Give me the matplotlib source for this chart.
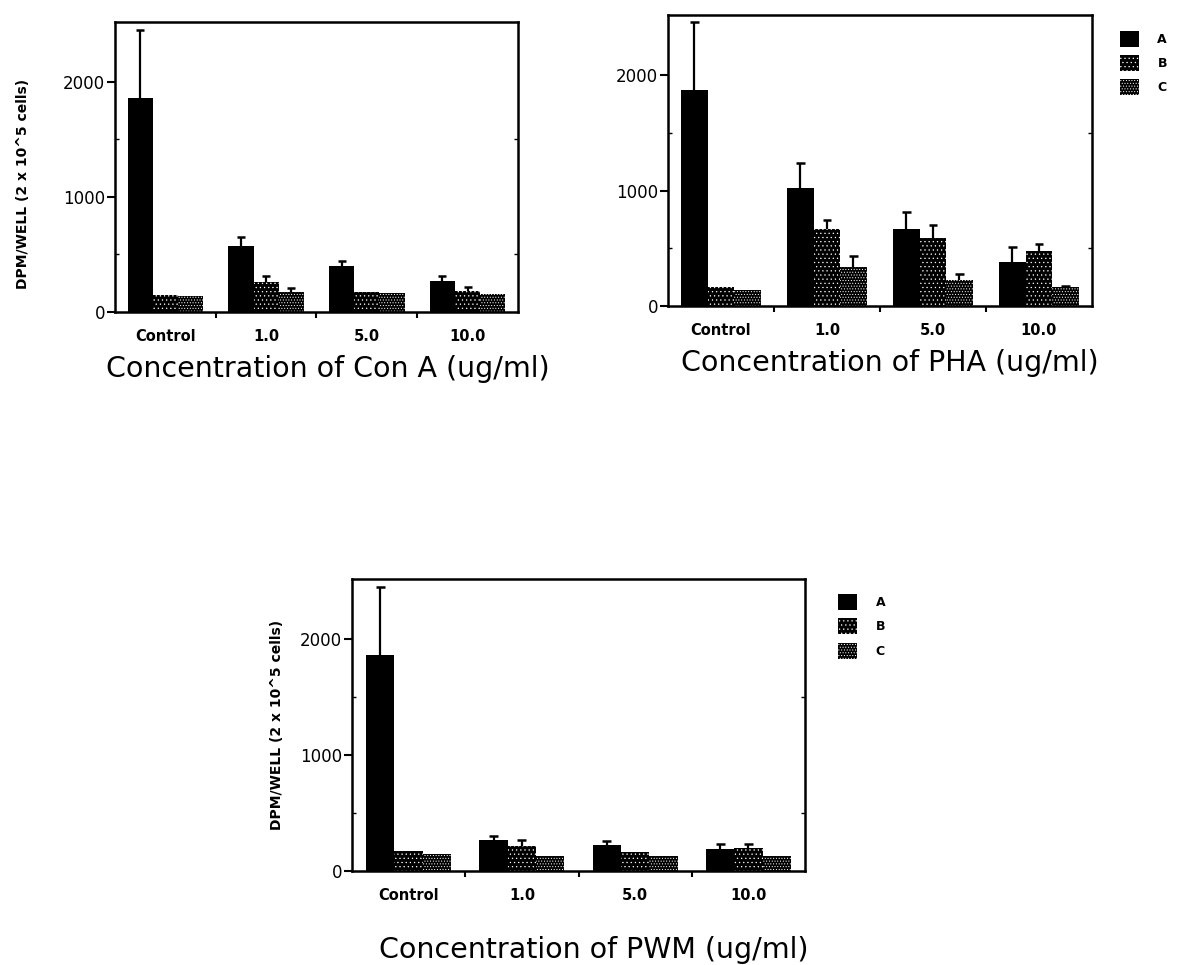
import numpy as np
import matplotlib
matplotlib.use('Agg')
import matplotlib.pyplot as plt
from matplotlib.patches import Patch

# data
groups = ['Control', '1.0', '5.0', '10.0']
series = ['A', 'B', 'C']

cona_a = [1860, 570, 400, 270]
cona_a_err = [590, 85, 46, 43]
cona_b = [150, 263, 171, 185]
cona_b_err = [0, 50, 0, 32]
cona_c = [140, 177, 165, 157]
cona_c_err = [0, 32, 0, 0]

pha_a = [1870, 1023, 670, 377]
pha_a_err = [590, 212, 141, 130]
pha_b = [162, 670, 588, 478]
pha_b_err = [0, 78, 110, 58]
pha_c = [139, 336, 226, 162]
pha_c_err = [0, 93, 52, 8]

pwm_a = [1864, 265, 228, 193]
pwm_a_err = [590, 35, 28, 37]
pwm_b = [170, 213, 164, 199]
pwm_b_err = [0, 52, 0, 31]
pwm_c = [150, 133, 133, 133]
pwm_c_err = [0, 0, 0, 0]

ylabel = 'DPM/WELL (2 x 10^5 cells)'
hatches = [None, '....', '......']
plt.rcParams['hatch.linewidth'] = 0.4

def panel(ax, vals, errs, xlabel, show_ylabel=True, xlabelpad=8, xlabel_x=0.5,
          ylabelpad=24, ylabel_y=0.44):
    x = np.arange(len(groups))
    w = 0.25
    for i, (v, e) in enumerate(zip(vals, errs)):
        pos = x + (i - 1) * w
        ax.bar(pos, v, width=w, color='black', edgecolor='white', linewidth=0,
               hatch=hatches[i], zorder=2)
        v = np.array(v)
        e = np.array(e)
        m = e > 0
        # upward error bars only, cap at the top
        ax.vlines(pos[m], v[m], v[m] + e[m], color='black', lw=1.6, zorder=3)
        ax.hlines(v[m] + e[m], pos[m] - 0.04, pos[m] + 0.04, color='black',
                  lw=1.8, zorder=3)
    ax.set_xlim(-0.5, len(groups) - 0.5)
    ax.set_ylim(0, 2520)
    ax.set_yticks([0, 1000, 2000])
    ax.set_yticks([500, 1500], minor=True)
    ax.set_xticks(x)
    ax.set_xticklabels(groups, fontsize=10.5, fontweight='bold')
    ax.set_xticks(x[:-1] + 0.5, minor=True)
    ax.tick_params(axis='x', which='major', length=0, pad=12)
    ax.tick_params(axis='x', which='minor', length=4, width=1.5, direction='out')
    ax.tick_params(axis='y', which='major', length=6, width=1.5, direction='out',
                   labelsize=12, pad=1)
    ax.tick_params(axis='y', which='minor', length=3, width=1, direction='in',
                   right=True)
    for s in ax.spines.values():
        s.set_linewidth(1.8)
    ax.set_xlabel(xlabel, fontsize=20.5, labelpad=xlabelpad)
    ax.xaxis.label.set_x(xlabel_x)
    if show_ylabel:
        ax.set_ylabel(ylabel, fontsize=10, fontweight='bold', labelpad=ylabelpad)
        ax.yaxis.label.set_y(ylabel_y)


def add_legend(ax, xoff, yoff):
    handles = [Patch(facecolor='black', edgecolor='white', linewidth=0, hatch=h)
               for h in hatches]
    ax.legend(handles, series, loc='upper left', bbox_to_anchor=(xoff, yoff),
              frameon=False, borderpad=0, borderaxespad=0, handlelength=1.5,
              handleheight=1.6, labelspacing=0.65, handletextpad=1.5,
              prop={'size': 9, 'weight': 'bold'})


fig = plt.figure(figsize=(11.99, 9.65), dpi=100)
ax1 = fig.add_axes([0.0959, 0.6767, 0.3361, 0.3005])
ax2 = fig.add_axes([0.5571, 0.6829, 0.3536, 0.3016])
ax3 = fig.add_axes([0.2936, 0.0974, 0.3778, 0.3026])

panel(ax1, [cona_a, cona_b, cona_c], [cona_a_err, cona_b_err, cona_c_err],
      'Concentration of Con A (ug/ml)', xlabel_x=0.529)
panel(ax2, [pha_a, pha_b, pha_c], [pha_a_err, pha_b_err, pha_c_err],
      'Concentration of PHA (ug/ml)', show_ylabel=False, xlabel_x=0.524)
panel(ax3, [pwm_a, pwm_b, pwm_c], [pwm_a_err, pwm_b_err, pwm_c_err],
      'Concentration of PWM (ug/ml)', xlabelpad=24, xlabel_x=0.534,
      ylabelpad=12, ylabel_y=0.5)

add_legend(ax2, 1.066, 0.945)
add_legend(ax3, 1.073, 0.948)

fig.savefig('out.png', dpi=100)
